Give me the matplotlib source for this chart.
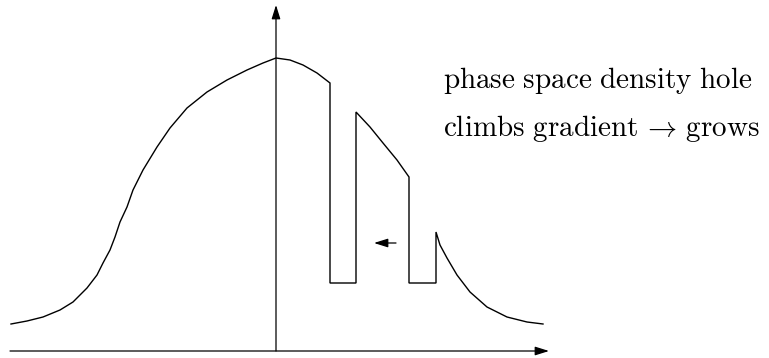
import matplotlib.pyplot as plt

# distribution with two holes cut out; x measured from the vertical axis,
# f measured up from the horizontal axis
left_x = [-265, -249, -233, -216, -203, -189, -179, -173, -166, -161, -156,
          -149, -143, -133, -119, -106, -89, -69, -49, -29, -13, 0]
left_f = [27, 30, 34, 41, 49, 63, 76, 88, 101, 114, 129,
          144, 161, 181, 204, 223, 243, 259, 271, 281, 288, 293]

mid_x = [0, 14, 27, 41, 54]
mid_f = [293, 291, 286, 278, 268]

hole1_x = [54, 54, 80, 80]
hole1_f = [268, 68, 68, 239]

slope_x = [80, 94, 107, 121, 133]
slope_f = [239, 224, 208, 191, 174]

hole2_x = [133, 133, 160, 160]
hole2_f = [174, 68, 68, 119]

right_x = [160, 164, 171, 181, 194, 211, 231, 251, 267]
right_f = [119, 106, 93, 76, 59, 44, 34, 29, 27]

label_top = r'$\mathrm{phase\ space\ density\ hole}$'
label_bottom = r'$\mathrm{climbs\ gradient}\,\rightarrow\,\mathrm{grows}$'

plt.rcParams['mathtext.fontset'] = 'cm'

fig = plt.figure(figsize=(7.69, 3.58), dpi=100)
ax = fig.add_axes([0, 0, 1, 1])
ax.set_xlim(-276, 493)
ax.set_ylim(-7, 351)
ax.axis('off')

ax.plot(left_x + mid_x + hole1_x + slope_x + hole2_x + right_x,
        left_f + mid_f + hole1_f + slope_f + hole2_f + right_f,
        color='black', lw=1.0, solid_joinstyle='miter')

# axes with arrow tips
arrow = dict(arrowstyle='-|>,head_length=0.7,head_width=0.22', color='black',
             lw=0.9, shrinkA=0, shrinkB=0, mutation_scale=12)
ax.annotate('', xy=(273, 0), xytext=(-266, 0), arrowprops=arrow)
ax.annotate('', xy=(0, 346), xytext=(0, 0), arrowprops=arrow)

# hole drifts to the left
ax.annotate('', xy=(98, 108), xytext=(120, 108), arrowprops=arrow)

ax.text(167, 263, label_top, fontsize=21, va='baseline')
ax.text(167, 215, label_bottom, fontsize=21, va='baseline')

fig.savefig('out.png', dpi=100)
